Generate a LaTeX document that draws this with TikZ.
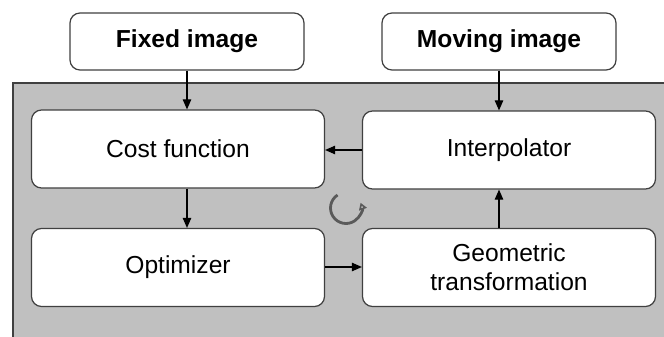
\documentclass[tikz,border=0pt]{standalone}
\usepackage{fontspec}
\setmainfont{Liberation Sans}
\usepackage{tikz}
\usetikzlibrary{arrows.meta,calc}
\definecolor{GrisFondo}{RGB}{192,192,192}
\definecolor{GrisBorde}{RGB}{64,64,64}
\definecolor{GrisIcono}{RGB}{90,90,90}

\begin{document}
\begin{tikzpicture}[>={Triangle[length=2mm,width=1.7mm]},
  caja/.style={draw=GrisBorde,line width=0.7pt,fill=white,rounded corners=0.2cm,
    align=center,font=\fontsize{14}{16.5}\selectfont,inner sep=0pt},
  entrada/.style={caja,minimum width=4.68cm,minimum height=1.14cm,font=\fontsize{14}{16.5}\selectfont\bfseries},
  bloque/.style={caja,minimum width=5.86cm,minimum height=1.56cm},
  flecha/.style={->,line width=0.6pt,black}]
  \clip (0,0) rectangle (13.28,6.72);
  % fondo del registro
  \draw[GrisBorde,line width=0.8pt,fill=GrisFondo] (0.26,-0.4) rectangle (13.7,5.06);
  % imagenes de entrada
  \node[entrada] (fija) at (3.74,5.89) {Fixed image};
  \node[entrada] (movil) at (9.98,5.89) {Moving image};
  % bloques del bucle
  \node[bloque] (coste) at (3.56,3.74) {Cost function};
  \node[bloque] (interp) at (10.18,3.72) {Interpolator};
  \node[bloque] (optim) at (3.56,1.37) {Optimizer};
  \node[bloque] (geom) at (10.18,1.37) {Geometric\\transformation};
  % conexiones
  \draw[flecha] (fija.south) -- (fija.south |- coste.north);
  \draw[flecha] (movil.south) -- (movil.south |- interp.north);
  \draw[flecha] (fija.south |- coste.south) -- (fija.south |- optim.north);
  \draw[flecha] (optim.east |- 0,1.38) -- (geom.west |- 0,1.38);
  \draw[flecha] (movil.south |- geom.north) -- (movil.south |- interp.south);
  \draw[flecha] (interp.west |- 0,3.72) -- (coste.east |- 0,3.72);
  % icono de iteracion
  \coordinate (ciclo) at (6.92,2.56);
  \draw[GrisIcono,line width=1.6pt,-{Triangle[open,length=1.4mm,width=1.6mm,fill=white]}]
    ($(ciclo)+(123:0.31)$) arc[start angle=123,end angle=380,radius=0.31];
\end{tikzpicture}
\end{document}
